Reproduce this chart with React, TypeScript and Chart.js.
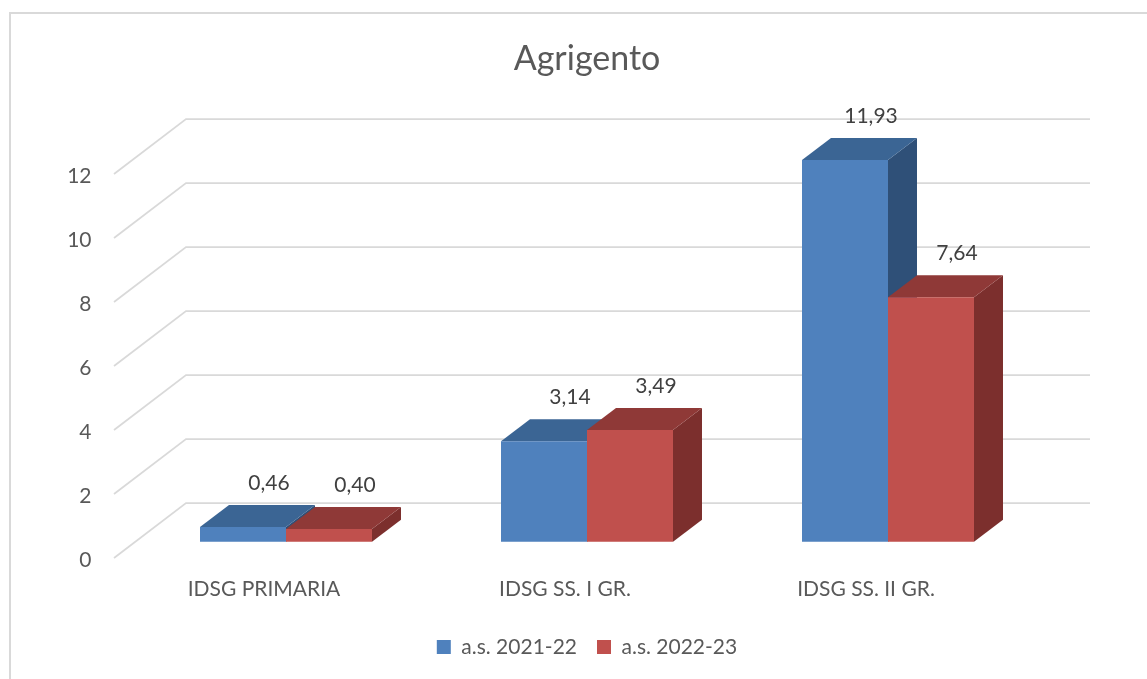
import React, { useEffect, useRef } from "react";
import { Chart, registerables } from "chart.js";

Chart.register(...registerables);

const categories = ["IDSG PRIMARIA", "IDSG SS. I GR.", "IDSG SS. II GR."];
const series2122 = [0.46, 3.14, 11.93];
const series2223 = [0.4, 3.49, 7.64];
const labels2122 = ["0,46", "3,14", "11,93"];
const labels2223 = ["0,40", "3,49", "7,64"];
const gridValues = [0, 2, 4, 6, 8, 10, 12];

const FONT = "Lato, sans-serif";
const TEXT = "#595959";
const DX = 29;
const DY = -22;
const faces = [
  { top: "#3B6594", side: "#2F5078" },
  { top: "#8F3937", side: "#7C2F2D" },
];
const allLabels = [labels2122, labels2223];

const depthPlugin = {
  id: "depth",
  beforeDatasetsDraw(chart: any) {
    const { ctx, scales } = chart;
    const y = scales.y;
    ctx.save();
    ctx.strokeStyle = "#D9D9D9";
    ctx.lineWidth = 1.75;
    gridValues.forEach((v) => {
      const p = y.getPixelForValue(v);
      ctx.beginPath();
      ctx.moveTo(114, p - 2);
      ctx.lineTo(186, p - 57);
      ctx.lineTo(1090, p - 57);
      ctx.stroke();
    });
    chart.data.datasets.forEach((_: any, di: number) => {
      chart.getDatasetMeta(di).data.forEach((bar: any) => {
        const l = bar.x - bar.width / 2;
        const r = bar.x + bar.width / 2;
        const t = bar.y;
        const b = bar.base;
        ctx.fillStyle = faces[di].side;
        ctx.beginPath();
        ctx.moveTo(r, t);
        ctx.lineTo(r + DX, t + DY);
        ctx.lineTo(r + DX, b + DY);
        ctx.lineTo(r, b);
        ctx.closePath();
        ctx.fill();
        ctx.fillStyle = faces[di].top;
        ctx.beginPath();
        ctx.moveTo(l, t);
        ctx.lineTo(l + DX, t + DY);
        ctx.lineTo(r + DX, t + DY);
        ctx.lineTo(r, t);
        ctx.closePath();
        ctx.fill();
      });
    });
    ctx.restore();
  },
  afterDatasetsDraw(chart: any) {
    const { ctx } = chart;
    ctx.save();
    ctx.font = `21px ${FONT}`;
    ctx.fillStyle = "#404040";
    ctx.textAlign = "center";
    ctx.textBaseline = "middle";
    chart.data.datasets.forEach((_: any, di: number) => {
      chart.getDatasetMeta(di).data.forEach((bar: any, i: number) => {
        ctx.fillText(allLabels[di][i], bar.x + 26, bar.y - 44);
      });
    });
    ctx.restore();
  },
  beforeDraw(chart: any) {
    const { ctx } = chart;
    ctx.save();
    ctx.fillStyle = "#FFFFFF";
    ctx.fillRect(0, 0, 1147, 679);
    ctx.strokeStyle = "#D9D9D9";
    ctx.lineWidth = 2;
    ctx.beginPath();
    ctx.moveTo(10, 679);
    ctx.lineTo(10, 13);
    ctx.lineTo(1147, 13);
    ctx.stroke();
    ctx.restore();
  },
};

export default function App() {
  const ref = useRef<HTMLCanvasElement>(null);
  useEffect(() => {
    const chart = new Chart(ref.current!, {
      type: "bar",
      data: {
        labels: categories,
        datasets: [
          { label: "a.s. 2021-22", data: series2122, backgroundColor: "#4F81BD", yAxisID: "bars", clip: false },
          { label: "a.s. 2022-23", data: series2223, backgroundColor: "#C0504D", yAxisID: "bars", clip: false },
        ],
      },
      options: {
        responsive: false,
        animation: false,
        categoryPercentage: 0.5714,
        barPercentage: 1,
        layout: { padding: { left: 0, right: 108.5, top: 0, bottom: 11.5 } },
        plugins: {
          tooltip: { enabled: false },
          title: {
            display: true,
            fullSize: false,
            text: "Agrigento",
            color: TEXT,
            font: { family: FONT, size: 34, weight: "normal" },
            padding: { top: 39, bottom: 64.2 },
          },
          legend: {
            position: "bottom",
            fullSize: false,
            labels: {
              color: TEXT,
              font: { family: FONT, size: 21 },
              boxWidth: 14,
              boxHeight: 14,
              padding: 20,
            },
          },
        },
        scales: {
          x: {
            grid: { display: false, drawTicks: false },
            border: { display: false },
            ticks: {
              color: TEXT,
              font: { family: FONT, size: 21 },
              labelOffset: -22,
              padding: 17,
              maxRotation: 0,
            },
            afterFit: (s: any) => {
              s.height = 56.5;
            },
          },
          y: {
            min: 0,
            max: 13,
            grid: { display: false, drawTicks: false },
            border: { display: false },
            ticks: {
              stepSize: 2,
              includeBounds: false,
              color: TEXT,
              font: { family: FONT, size: 21 },
              padding: 44,
            },
            afterFit: (s: any) => {
              s.width = 135.5;
            },
          },
          bars: { display: false, min: -0.57, max: 12.43 },
        },
      } as any,
      plugins: [depthPlugin],
    });
    return () => chart.destroy();
  }, []);
  return (
    <div style={{ position: "absolute", left: 0, top: 0, width: 1147, height: 679 }}>
      <canvas ref={ref} width={1147} height={679} style={{ display: "block" }} />
    </div>
  );
}
